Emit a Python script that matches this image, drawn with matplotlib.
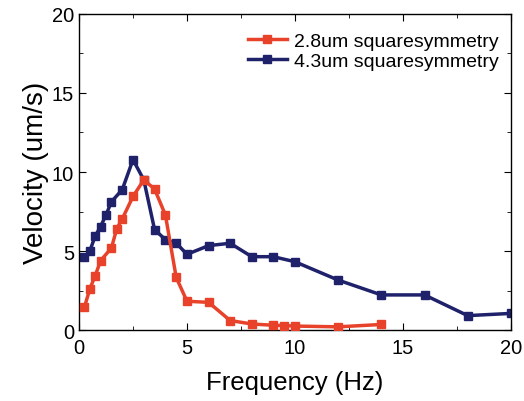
import matplotlib
matplotlib.use("Agg")
import matplotlib.pyplot as plt
from matplotlib.ticker import MultipleLocator

plt.rcParams['font.family'] = ['Liberation Sans', 'DejaVu Sans']

red_x = [0.25, 0.5, 0.75, 1.0, 1.5, 1.75, 2.0, 2.5, 3.0, 3.5, 4.0, 4.5, 5.0, 6.0, 7.0, 8.0, 9.0, 9.5, 10.0, 12.0, 14.0]
red_y = [1.44, 2.6, 3.44, 4.39, 5.19, 6.42, 7.03, 8.45, 9.5, 8.92, 7.28, 3.33, 1.82, 1.75, 0.6, 0.38, 0.3, 0.28, 0.25, 0.2, 0.35]

blue_x = [0.25, 0.5, 0.75, 1.0, 1.25, 1.5, 2.0, 2.5, 3.0, 3.5, 4.0, 4.5, 5.0, 6.0, 7.0, 8.0, 9.0, 10.0, 12.0, 14.0, 16.0, 18.0, 20.0]
blue_y = [4.6, 5.0, 5.95, 6.55, 7.28, 8.12, 8.88, 10.78, 9.5, 6.35, 5.72, 5.5, 4.79, 5.34, 5.49, 4.64, 4.64, 4.32, 3.16, 2.22, 2.22, 0.91, 1.05]

labels = ['2.8um squaresymmetry', '4.3um squaresymmetry']

fig = plt.figure(figsize=(5.24, 4.02), dpi=100)
ax = fig.add_axes([0.1508, 0.1766, 0.8242, 0.7861])

ax.plot(red_x, red_y, color='#e8432a', lw=2.5, marker='s', ms=5.5,
        markeredgecolor='#e8432a', label=labels[0], zorder=3)
ax.plot(blue_x, blue_y, color='#1f226a', lw=2.5, marker='s', ms=5.5,
        markeredgecolor='#1f226a', label=labels[1], zorder=2)

ax.set_xlim(0, 20)
ax.set_ylim(0, 20)
ax.xaxis.set_major_locator(MultipleLocator(5))
ax.yaxis.set_major_locator(MultipleLocator(5))
ax.xaxis.set_minor_locator(MultipleLocator(2.5))
ax.yaxis.set_minor_locator(MultipleLocator(2.5))
ax.tick_params(which='both', direction='in', top=True, right=True, labelsize=14.5)
ax.tick_params(axis='x', pad=6)
ax.tick_params(which='major', length=5)
ax.tick_params(which='minor', length=3)
for s in ax.spines.values():
    s.set_linewidth(1.0)

ax.set_xlabel('Frequency (Hz)', fontsize=18.5, labelpad=9)
ax.set_ylabel('Velocity (um/s)', fontsize=20, labelpad=2)

leg = ax.legend(loc='upper right', frameon=False, fontsize=14, handlelength=2.0,
                borderaxespad=0.2, labelspacing=0.15, handletextpad=0.4,
                bbox_to_anchor=(1.0, 0.98))

fig.savefig('out.png', dpi=100)
